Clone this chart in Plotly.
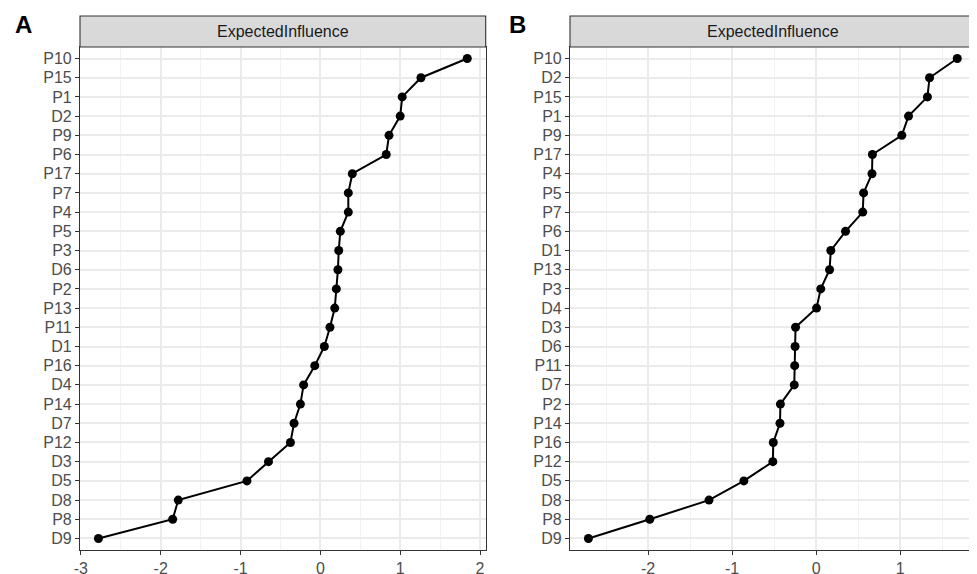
import plotly.graph_objects as go

# ---- data ----
nodes_a = ["P10", "P15", "P1", "D2", "P9", "P6", "P17", "P7", "P4", "P5", "P3", "D6", "P2",
           "P13", "P11", "D1", "P16", "D4", "P14", "D7", "P12", "D3", "D5", "D8", "P8", "D9"]
ei_a = [1.84, 1.26, 1.025, 1.00, 0.86, 0.825, 0.40, 0.35, 0.35, 0.25, 0.23, 0.22, 0.20,
        0.18, 0.12, 0.05, -0.07, -0.21, -0.25, -0.33, -0.375, -0.65, -0.92, -1.78, -1.85, -2.78]

nodes_b = ["P10", "D2", "P15", "P1", "P9", "P17", "P4", "P5", "P7", "P6", "D1", "P13", "P3",
           "D4", "D3", "D6", "P11", "D7", "P2", "P14", "P16", "P12", "D5", "D8", "P8", "D9"]
ei_b = [1.68, 1.35, 1.325, 1.10, 1.02, 0.67, 0.665, 0.565, 0.555, 0.35, 0.175, 0.16, 0.055,
        0.005, -0.245, -0.25, -0.255, -0.26, -0.425, -0.43, -0.51, -0.515, -0.86, -1.275, -1.98, -2.71]

xticks_a = [-3, -2, -1, 0, 1, 2]
xticks_b = [-2, -1, 0, 1]
panel_labels = ["A", "B"]
strip_title = "ExpectedInfluence"

# page body has an 8px margin; the figure is sized so it fills the 977x574 window
OFF = 8
W, H = 977 - OFF, 574 - OFF
FONT = "Liberation Sans, Arial, Helvetica, sans-serif"
FS = 16

def px(x):
    return (x - OFF) / W

def py(y):
    return (H - (y - OFF)) / H

fig = go.Figure()

def add_panel(names, vals, xa, ya):
    fig.add_trace(go.Scatter(
        x=vals, y=names, mode="lines+markers",
        line=dict(color="black", width=2),
        marker=dict(color="black", size=9),
        xaxis=xa, yaxis=ya, showlegend=False, hoverinfo="x+y"))

add_panel(nodes_a, ei_a, "x", "y")
add_panel(nodes_b, ei_b, "x2", "y2")

def rng(vals):
    lo, hi = min(vals), max(vals)
    e = (hi - lo) * 0.05
    return [lo - e, hi + e]

dom_a = [px(80), px(485.7)]
dom_b = [px(570), px(975.7)]
ydom = [py(550), py(47)]

common_x = dict(
    showgrid=True, gridcolor="#EBEBEB", gridwidth=1.6,
    zeroline=False, showline=True, mirror=True, linecolor="#333333", linewidth=1.1,
    ticks="outside", ticklen=4, tickwidth=1.1, tickcolor="#333333",
    tickfont=dict(family=FONT, size=FS, color="#4D4D4D"),
    minor=dict(dtick=0.5, tick0=-3, showgrid=True, gridcolor="#F2F2F2", gridwidth=0.9, ticks=""),
    automargin=False, fixedrange=True,
)

def yax(names, anchor):
    return dict(
        type="category", categoryorder="array", categoryarray=list(reversed(names)),
        range=[-0.6, len(names) - 1 + 0.6], domain=ydom, anchor=anchor,
        showgrid=True, gridcolor="#EBEBEB", gridwidth=1.6,
        zeroline=False, showline=True, mirror=True, linecolor="#333333", linewidth=1.1,
        ticks="outside", ticklen=4, tickwidth=1.1, tickcolor="#333333",
        tickfont=dict(family=FONT, size=FS, color="#4D4D4D"),
        automargin=False, fixedrange=True,
    )

xa = dict(common_x); xa.update(domain=dom_a, range=rng(ei_a), tickvals=xticks_a,
                               ticktext=[str(v) for v in xticks_a], anchor="y")
xb = dict(common_x); xb.update(domain=dom_b, range=rng(ei_b), tickvals=xticks_b,
                               ticktext=[str(v) for v in xticks_b], anchor="y2")

fig.update_layout(
    width=W, height=H, margin=dict(l=0, r=0, t=0, b=0),
    paper_bgcolor="white", plot_bgcolor="white",
    xaxis=xa, yaxis=yax(nodes_a, "x"),
    xaxis2=xb, yaxis2=yax(nodes_b, "x2"),
    font=dict(family=FONT),
)

strip_y0 = py(47)
strip_y1 = py(16)
shapes = []
annotations = []
for dom, lab, lx in [(dom_a, panel_labels[0], 24), (dom_b, panel_labels[1], 517)]:
    shapes.append(dict(type="rect", xref="paper", yref="paper",
                       x0=dom[0], x1=dom[1], y0=strip_y0, y1=strip_y1,
                       fillcolor="#D9D9D9", line=dict(color="#333333", width=1.1), layer="above"))
    annotations.append(dict(xref="paper", yref="paper", x=(dom[0] + dom[1]) / 2,
                            y=(strip_y0 + strip_y1) / 2, text=strip_title, showarrow=False,
                            font=dict(family=FONT, size=FS, color="#1A1A1A"),
                            xanchor="center", yanchor="middle"))
    annotations.append(dict(xref="paper", yref="paper", x=px(lx), y=py(25),
                            text="<b>%s</b>" % lab, showarrow=False,
                            font=dict(family=FONT, size=24, color="black"),
                            xanchor="center", yanchor="middle"))
fig.update_layout(shapes=shapes, annotations=annotations)

fig.write_html("out.html")
